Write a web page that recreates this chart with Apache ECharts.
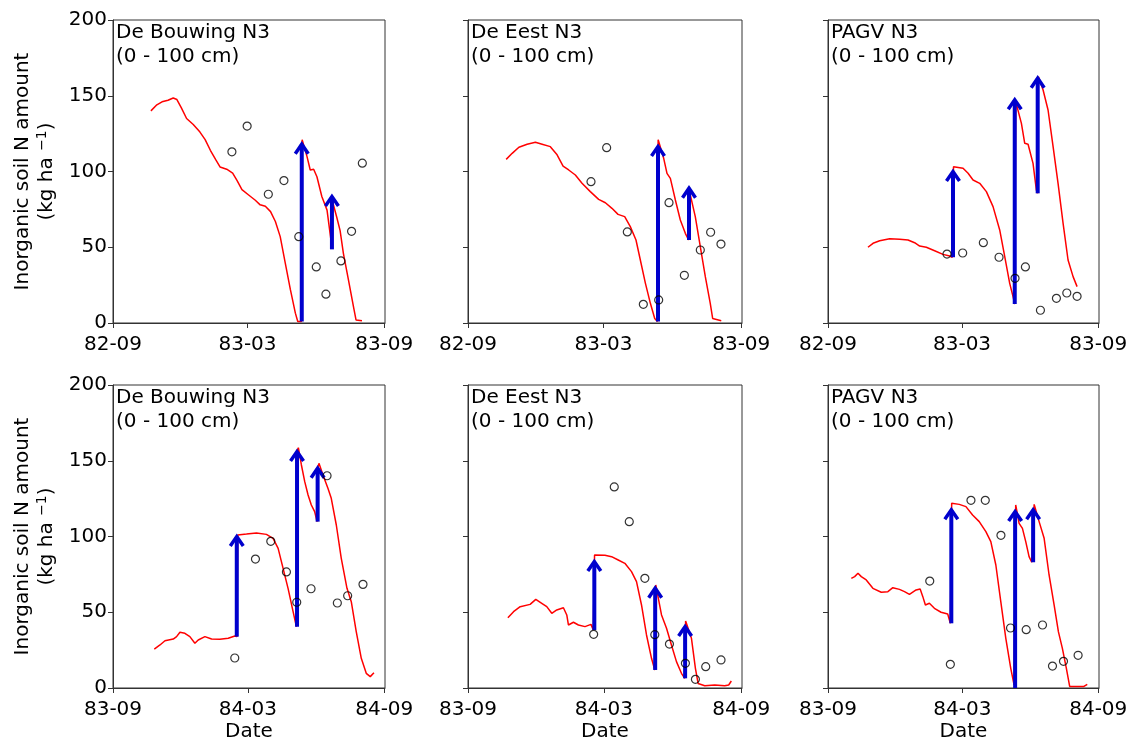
<!DOCTYPE html>
<html>
<head>
<meta charset="utf-8">
<script src="https://cdn.jsdelivr.net/npm/echarts@6/dist/echarts.min.js"></script>
<style>
html,body{margin:0;padding:0;background:#fff;}
#chart{width:1132px;height:739px;}
</style>
</head>
<body>
<div id="chart"></div>
<script>
// ---- Data (x = days after 1 September of the season start year) ----
const seasonStartYears = [1982, 1983];
const panelTitles = ['De Bouwing N3\n(0 - 100 cm)', 'De Eest N3\n(0 - 100 cm)', 'PAGV N3\n(0 - 100 cm)'];
const yTickValues = [0, 50, 100, 150, 200];
const yAxisTitle = '{n|Inorganic soil N amount}\n{n|(kg ha }{s|\u22121}{n|)}';
const xAxisTitle = 'Date';

// simulated [day, kg/ha]
const bouwing83Sim = [[51,140],[59,144],[66,146],[74,147],[81,148.5],[86,147.5],[92,142],[99,135],[108,131],[117,126],[124,121],[131,114],[138,108],[144,103],[153,101.5],[161,99],[167,94],[173.5,88],[182.5,84.5],[191.5,81],[198,78],[205,77],[212,73.5],[218.5,67],[225,57],[232,39],[238.7,22],[245.4,6.5],[248.6,1],[253.5,1],[254.5,121],[261,110],[265.4,101],[270,101.5],[274.4,96.5],[281,83.5],[288,74.5],[293.2,55],[294.5,49],[295.5,80],[301,70],[305.6,61],[310,46],[317,28],[323.5,11],[327,2],[335,1.5]];
const bouwing83Obs = [[160,113],[180.5,130],[209,85],[230,94],[250,57],[273.5,37],[286.5,19],[306.7,41],[321,60.5],[335.5,105.5]];
const bouwing83Fert = [[254,1,119],[294.6,48.6,84.5]];

const eest83Sim = [[51,108],[59,112],[68,116],[79,118],[90,119.3],[99,118],[110,116.4],[119,111],[127,103.6],[134.5,101],[143.4,97.7],[152.3,92.2],[163.4,86.7],[174.5,81.6],[183.5,79.4],[192.3,75.7],[200.4,71.7],[209.3,70.2],[216.8,63.6],[224.4,54.8],[230.2,41.6],[237,26.2],[243.6,13],[249.4,3],[253,1],[254,121],[261.4,108.7],[265.8,98.8],[270.3,95.5],[277,81.2],[283.6,68],[290.3,59.2],[294.7,54.8],[295.8,87],[303.6,70.2],[310.3,50.4],[317,30.6],[323.6,13],[326.8,3],[338.3,1.5]];
const eest83Obs = [[164.3,93.3],[185.2,115.7],[212.8,60.1],[234.2,12.3],[254.7,15.2],[268.5,79.4],[289,31.5],[310.3,48.2],[324.1,59.9],[337.9,52.1]];
const eest83Fert = [[253.8,1,117.5],[295.2,54.8,90]];

const pagv83Sim = [[54,50],[60.8,52.6],[69.8,54.3],[83.3,55.6],[96.8,55.2],[108.1,54.8],[117,53],[123.8,50.8],[132.8,50],[144,47.7],[155.3,45.3],[164.3,44.2],[167.9,43.4],[169.5,103.2],[182.4,102.1],[189.2,98.8],[195.9,94.4],[204.9,92.2],[213.9,86.7],[222.9,76.8],[231.9,61.4],[238.7,43.8],[245.4,26.2],[249.9,17.4],[252.2,12.5],[253.5,145],[255.3,142.8],[261.2,131.8],[265.7,118.6],[270.2,118],[276.9,105.4],[281.4,87.8],[283,85.6],[284.2,162.6],[290.5,153.8],[297.2,140.6],[304,116.4],[310.7,92.2],[317.5,65.8],[324.2,41.6],[331,30.6],[336.4,24]];
const pagv83Obs = [[160.7,45.5],[181.9,46.2],[209.8,53],[231,43.4],[252.6,29.5],[266.6,37],[286.9,8.4],[308.5,16.3],[322.5,19.8],[336.4,17.6]];
const pagv83Fert = [[168.8,43.4,101],[252.2,12.5,148.3],[283.2,85.6,162.6]];

const bouwing84Sim = [[55.7,25.7],[63.4,28.4],[70.1,31.2],[81.3,32.3],[85.8,33.9],[90.3,36.8],[97,36.1],[103.7,33.9],[110.5,29.5],[115,31.7],[124,33.9],[133,32.3],[144.2,32.1],[155.5,32.8],[164.4,34.3],[167.3,33.9],[168.3,101],[180.1,101.6],[193.6,102.3],[207,101.4],[216,98.8],[222.8,92.2],[229.5,79],[236.2,65.8],[243,50.4],[247.4,40.5],[248.8,157],[250.1,158.6],[254.2,147.2],[258.7,136.2],[263.2,127.4],[267.6,120.8],[272.1,116.4],[275.3,109.8],[276.6,146],[277.9,148.3],[283.3,140.6],[290,131.8],[294.5,125.2],[301.3,107.6],[308,85.6],[315.7,65.8],[321.5,57],[328.2,37.2],[335,19.6],[341.7,9.7],[347.1,7.5],[352.1,10.1]];
const bouwing84Obs = [[164.3,19.8],[192.2,85.1],[212.9,96.8],[234,76.6],[247.9,56.6],[267.2,65.5],[288.8,140.1],[302.7,56.1],[316.6,60.9],[337.3,68.4]];
const bouwing84Fert = [[167,33.9,101],[248.3,40.5,157.1],[276.1,109.8,146.1]];

const eest84Sim = [[53.4,46.4],[61,50.4],[69.9,53.7],[83.2,55.2],[90.8,58.5],[98.8,55.9],[105.5,53.7],[112.2,49.3],[118.9,51.5],[127.8,53],[132.3,48.2],[134.5,41.6],[141.2,43.4],[147.9,41.6],[156.7,40.5],[164.7,42],[167.8,38.3],[169.5,87.8],[183.4,87.6],[192.3,86.7],[201.2,84.5],[210.1,82.3],[219,76.8],[225.7,70.2],[232.4,54.8],[239.1,35],[245.8,19.6],[250.2,11.9],[251.5,68],[252.9,68],[259.2,48.2],[265.9,39.4],[272.5,28.4],[279.2,17.4],[285.9,9.7],[290.3,6.4],[291.5,44.2],[292.6,44.2],[299.3,32.8],[304.6,13],[308.2,3],[317.1,1.5],[330.5,2],[343.8,1.5],[349.2,2],[352.7,4.6]];
const eest84Obs = [[168.3,35.4],[195.9,132.7],[216,109.8],[236.9,72.4],[250.2,35.2],[269.8,29],[291.2,16.3],[304.6,5.7],[318.4,14.1],[338.9,18.5]];
const eest84Fert = [[169.2,38.3,84.5],[250.7,11.9,66.9],[290.8,6.4,41.6]];

const pagv84Sim = [[31.6,72.4],[36.1,73.5],[40.6,75.7],[45.1,73.5],[51.8,71.3],[60.8,65.8],[72.1,63.2],[81.1,63.6],[87.8,66.2],[96.8,65.1],[103.6,63.6],[110.3,61.8],[119.3,64.7],[124.8,65.3],[128.4,60.3],[131.9,54.8],[137.3,55.9],[144.1,52.6],[153.1,50],[162.1,48.8],[165.7,42.7],[167.5,121.9],[177.8,121.2],[186.8,119.7],[195.8,114.2],[204.8,109.8],[213.8,103.2],[220.5,96.6],[227.3,81.2],[234,57],[240.8,32.8],[247.5,13],[252,2],[253.4,1],[254.2,120.8],[258.8,108.7],[263.3,105.4],[267.8,96.6],[272.3,86.7],[275.9,83],[277.8,83],[279.2,121.2],[285.9,109.8],[292.7,98.8],[299.4,74.6],[306.2,54.8],[312,37.2],[317.4,26.2],[322.8,13],[327.3,1],[335.4,1],[346.6,1],[351.1,2.4]];
const pagv84Obs = [[137.8,70.6],[165.7,15.6],[193.6,123.9],[213,123.9],[234.2,100.8],[247.2,39.6],[268.4,38.5],[290.5,41.6],[304,14.5],[318.9,17.6],[338.7,21.6]];
const pagv84Fert = [[167,42.7,118.6],[253.4,0,117.5],[277.8,83,118.6]];

const panelData = [
  [bouwing83Sim, bouwing83Obs, bouwing83Fert],
  [eest83Sim, eest83Obs, eest83Fert],
  [pagv83Sim, pagv83Obs, pagv83Fert],
  [bouwing84Sim, bouwing84Obs, bouwing84Fert],
  [eest84Sim, eest84Obs, eest84Fert],
  [pagv84Sim, pagv84Obs, pagv84Fert]
];

// ---- Layout ----
const colLeft = [113, 468, 828];
const colWidth = [272, 274, 271];
const rowTop = [20, 385];
const rowHeight = 303;
const FONT = 'DejaVu Sans';
const AXIS_COLOR = '#333';
const BLUE = '#0000cd';

function dayToTime(year, d) {
  return new Date(year, 8, 1).getTime() + d * 86400000;
}
function fmt(v) {
  const d = new Date(v);
  return String(d.getFullYear()).slice(2) + '-' + String(d.getMonth() + 1).padStart(2, '0');
}

const grids = [], xAxes = [], yAxes = [], series = [], titles = [];
for (let i = 0; i < 6; i++) {
  const row = Math.floor(i / 3), col = i % 3;
  const y0 = seasonStartYears[row];
  grids.push({left: colLeft[col], top: rowTop[row], width: colWidth[col], height: rowHeight,
    show: true, borderColor: AXIS_COLOR, borderWidth: 1, backgroundColor: '#fff',
    containLabel: false, outerBoundsMode: 'none'});
  const ticks = [new Date(y0, 8, 1).getTime(), new Date(y0 + 1, 2, 1).getTime(), new Date(y0 + 1, 8, 1).getTime()];
  xAxes.push({
    type: 'value', gridIndex: i, scale: true,
    min: new Date(y0, 8, 1).getTime(), max: new Date(y0 + 1, 8, 2).getTime(),
    axisLine: {show: true, lineStyle: {color: AXIS_COLOR, width: 1}},
    axisTick: {show: true, customValues: ticks, length: 5, lineStyle: {color: AXIS_COLOR}},
    axisLabel: {show: true, customValues: ticks, formatter: fmt, fontFamily: FONT, fontSize: 20, color: '#000', margin: 12, hideOverlap: false},
    splitLine: {show: false},
    name: row === 1 ? xAxisTitle : '', nameLocation: 'middle', nameGap: 34,
    nameTextStyle: {fontFamily: FONT, fontSize: 20, color: '#000'}
  });
  yAxes.push({
    type: 'value', gridIndex: i, min: yTickValues[0], max: yTickValues[yTickValues.length - 1],
    interval: yTickValues[1] - yTickValues[0],
    axisLine: {show: true, lineStyle: {color: AXIS_COLOR, width: 1}},
    axisTick: {show: true, length: 5, lineStyle: {color: AXIS_COLOR}},
    axisLabel: {show: col === 0, fontFamily: FONT, fontSize: 20, color: '#000', margin: 6},
    splitLine: {show: false},
    name: col === 0 ? yAxisTitle : '', nameLocation: 'middle', nameRotate: 90, nameGap: 54,
    nameTextStyle: {fontFamily: FONT, fontSize: 20, color: '#000', lineHeight: 24,
      rich: {
        n: {fontFamily: FONT, fontSize: 20, color: '#000', lineHeight: 24},
        s: {fontFamily: FONT, fontSize: 14, color: '#000', lineHeight: 24, verticalAlign: 'top', padding: [0, 0, 6, 0]}
      }}
  });
  titles.push({text: panelTitles[col], left: colLeft[col] + 3, top: rowTop[row] + 1, padding: 0,
    textStyle: {fontFamily: FONT, fontSize: 20, fontWeight: 'normal', color: '#000', lineHeight: 24}});

  const [sim, obs, fert] = panelData[i];
  series.push({
    type: 'line', xAxisIndex: i, yAxisIndex: i, showSymbol: false, symbol: 'none',
    data: sim.map(p => [dayToTime(y0, p[0]), p[1]]),
    lineStyle: {color: '#ff0000', width: 1.5}, z: 2
  });
  series.push({
    type: 'custom', xAxisIndex: i, yAxisIndex: i, z: 3,
    data: fert.map(a => [dayToTime(y0, a[0]), a[1], a[2]]),
    encode: {x: 0, y: [1, 2]},
    renderItem: function (params, api) {
      const p0 = api.coord([api.value(0), api.value(1)]);
      const p1 = api.coord([api.value(0), api.value(2)]);
      return {type: 'group', children: [
        {type: 'line', shape: {x1: p0[0], y1: p0[1], x2: p1[0], y2: p1[1] + 2},
          style: {stroke: BLUE, lineWidth: 4}},
        {type: 'polyline', shape: {points: [[p1[0] - 6.5, p1[1] + 11], [p1[0], p1[1] + 1.5], [p1[0] + 6.5, p1[1] + 11]]},
          style: {stroke: BLUE, fill: null, lineWidth: 3.5, lineJoin: 'miter'}}
      ]};
    }
  });
  series.push({
    type: 'scatter', xAxisIndex: i, yAxisIndex: i, z: 4,
    data: obs.map(p => [dayToTime(y0, p[0]), p[1]]),
    symbol: 'circle', symbolSize: 8,
    itemStyle: {color: 'rgba(0,0,0,0)', borderColor: '#000', borderWidth: 1.2}
  });
}

const chart = echarts.init(document.getElementById('chart'), null, {renderer: 'canvas'});
chart.setOption({
  animation: false,
  backgroundColor: '#fff',
  title: titles,
  grid: grids,
  xAxis: xAxes,
  yAxis: yAxes,
  series: series
});
</script>
</body>
</html>
